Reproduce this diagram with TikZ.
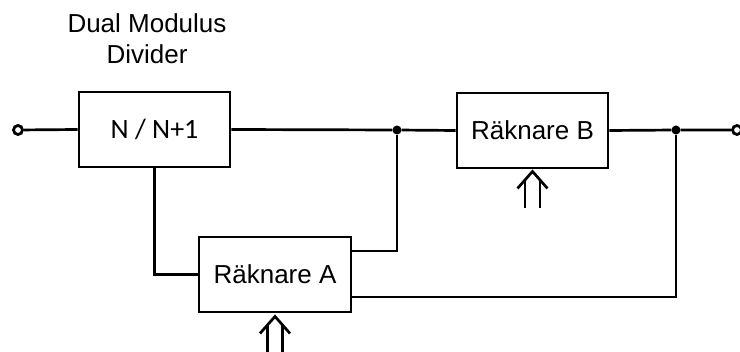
\documentclass[tikz,border=0pt]{standalone}
\usepackage{fontspec}
\setmainfont{Liberation Sans}
\newfontfamily\calfont{Carlito}
\begin{document}
\begin{tikzpicture}[x=1pt,y=-1pt,
  wire/.style={line width=2.7pt},
  block/.style={draw,line width=2.9pt,rectangle,minimum width=151pt,minimum height=75pt,inner sep=0pt,
    font=\fontsize{26}{31}\selectfont},
  dot/.style={circle,fill,inner sep=0pt,minimum size=9pt},
  port/.style={circle,draw,line width=2.8pt,fill=white,inner sep=0pt,minimum size=9pt},
  uparrows/.pic={
    \draw[wire] (-15,17) -- (0,0) -- (15,17);
    \draw[wire] (-7.5,8.5) -- (-7.5,37);
    \draw[wire] (7.5,8.5) -- (7.5,37);
  }]
\useasboundingbox (0,0) rectangle (740,352);

% caption of the prescaler
\node[align=center,font=\fontsize{26}{31}\selectfont] (title) at (147,39) {Dual Modulus\\Divider};

% blocks
\node[block,font=\calfont\fontsize{28}{32}\selectfont] (N) at (154.5,129.5) {N / N+1};
\node[block] (B) at (532.5,130.5) {Räknare B};
\node[block,minimum width=152pt] (A) at (275,274.5) {Räknare A};

% terminals and junctions
\node[dot] (d1) at (397,130) {};
\node[dot] (d2) at (676,130) {};
\node[port] (in) at (18,130) {};
\node[port] (out) at (737,130) {};

% signal path
\draw[wire] (in) -- (N.west);
\draw[wire] (N.east) -- (d1) -- (B.west);
\draw[wire] (B.east) -- (d2) -- (out);
\draw[wire] (N.south) |- (A.west);
\draw[wire] ([yshift=23.5pt]A.east) -| (d1);
\draw[wire] ([yshift=-22.5pt]A.east) -| (d2);

% programming inputs
\pic at ([yshift=-2pt]B.south) {uparrows};
\pic at ([yshift=-3pt]A.south) {uparrows};
\end{tikzpicture}
\end{document}
